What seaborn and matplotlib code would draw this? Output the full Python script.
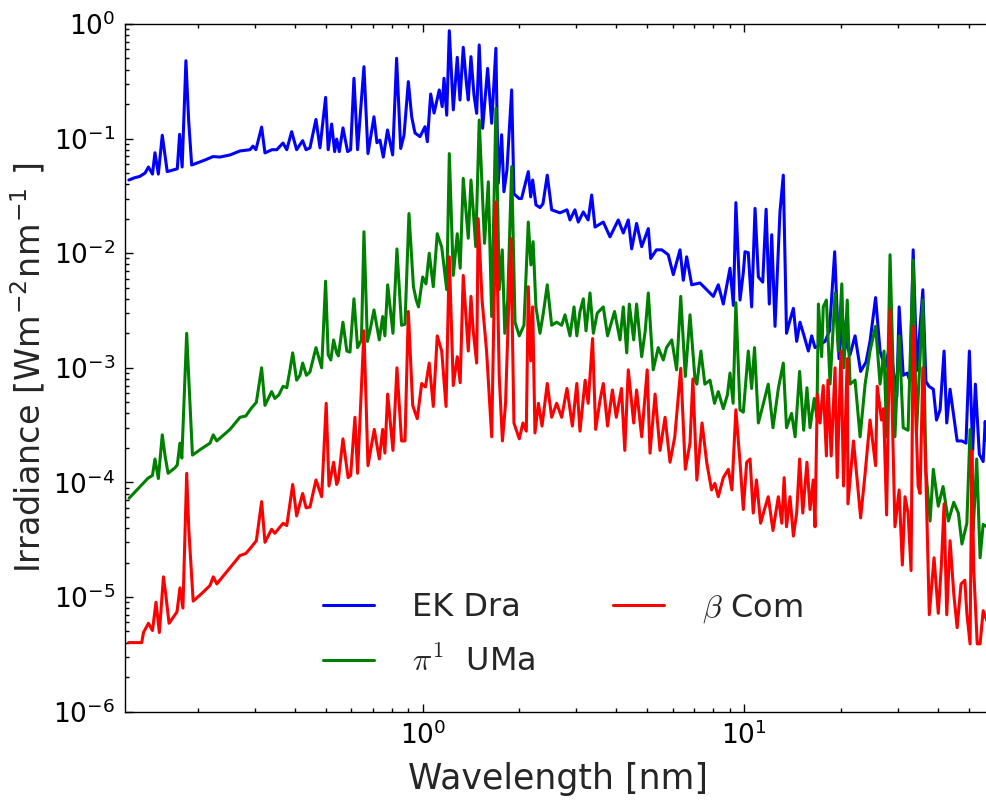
import matplotlib
matplotlib.use("Agg")
import matplotlib.pyplot as plt
import numpy as np
import pandas as pd
import seaborn as sns
from matplotlib.ticker import LogLocator, NullFormatter, LogFormatterSciNotation

# ---------------- data ----------------
wl_ek_dra = [0.122, 0.127, 0.132, 0.137, 0.1404, 0.1445, 0.1471, 0.1507, 0.155, 0.1606,
             0.1726, 0.1755, 0.1787, 0.1836, 0.1872, 0.1913, 0.2107, 0.2228, 0.234, 0.2517,
             0.2704, 0.2904, 0.2967, 0.303, 0.3157, 0.3233, 0.340, 0.352, 0.3678, 0.378,
             0.3914, 0.4056, 0.4235, 0.434, 0.4462, 0.4658, 0.4794, 0.4991, 0.5084, 0.5212,
             0.5325, 0.5402, 0.5504, 0.5652, 0.5842, 0.597, 0.6114, 0.6275, 0.6568, 0.6759,
             0.7056, 0.7208, 0.7366, 0.7543, 0.7774, 0.8067, 0.8298, 0.8543, 0.875, 0.9024,
             0.9243, 0.9464, 0.981, 1.017, 1.034, 1.059, 1.085, 1.108, 1.126, 1.150,
             1.165, 1.188, 1.210, 1.245, 1.281, 1.306, 1.337, 1.370, 1.386, 1.413,
             1.444, 1.472, 1.499, 1.536, 1.592, 1.639, 1.689, 1.717, 1.760, 1.789,
             1.828, 1.891, 1.922, 1.993, 2.03, 2.13, 2.167, 2.198, 2.25, 2.316,
             2.366, 2.44, 2.518, 2.673, 2.81, 2.871, 2.974, 3.047, 3.158, 3.27,
             3.353, 3.434, 3.644, 3.823, 4.057, 4.205, 4.358, 4.465, 4.625, 4.797,
             5.03, 5.117, 5.33, 5.536, 5.80, 6.015, 6.311, 6.462, 6.62, 6.862,
             7.282, 7.64, 8.01, 8.30, 8.605, 8.81, 9.028, 9.25, 9.415, 9.698,
             9.93, 10.05, 10.29, 10.54, 10.80, 11.06, 11.41, 11.69, 11.96, 12.17,
             12.46, 12.91, 13.22, 13.53, 13.87, 14.21, 14.55, 14.90, 15.34, 15.82,
             16.20, 16.59, 17.20, 17.83, 18.4, 19.1, 19.7, 20.2, 20.8, 21.32,
             22.1, 23.0, 23.9, 24.6, 25.6, 26.43, 27.4, 28.39, 29.8, 30.3,
             31.2, 32.1, 32.77, 33.5, 34.4, 35.9, 36.7, 37.5, 38.7, 39.6,
             40.62, 41.8, 42.6, 43.63, 45.9, 47.5, 48.9, 50.1, 51.3, 52.3,
             53.8, 55.3, 56.1, 56.8]
irr_ek_dra = [0.0435, 0.0455, 0.0468, 0.0500, 0.0565, 0.049, 0.0753, 0.049, 0.107, 0.0515,
              0.0545, 0.109, 0.0565, 0.478, 0.145, 0.0588, 0.0651, 0.0697, 0.069, 0.072,
              0.078, 0.080, 0.086, 0.080, 0.126, 0.075, 0.080, 0.080, 0.0915, 0.080,
              0.115, 0.080, 0.096, 0.080, 0.083, 0.147, 0.083, 0.229, 0.080, 0.134,
              0.077, 0.099, 0.077, 0.124, 0.077, 0.080, 0.336, 0.080, 0.424, 0.074,
              0.155, 0.092, 0.097, 0.069, 0.119, 0.072, 0.502, 0.082, 0.107, 0.314,
              0.155, 0.112, 0.104, 0.127, 0.094, 0.245, 0.167, 0.217, 0.266, 0.19,
              0.336, 0.16, 0.874, 0.178, 0.512, 0.217, 0.626, 0.29, 0.217, 0.519,
              0.24, 0.166, 0.656, 0.123, 0.41, 0.136, 0.614, 0.0406, 0.108, 0.0344,
              0.053, 0.266, 0.033, 0.030, 0.030, 0.0515, 0.031, 0.0435, 0.0264, 0.025,
              0.027, 0.048, 0.0239, 0.0225, 0.0239, 0.0195, 0.0239, 0.0187, 0.0229, 0.0195,
              0.0322, 0.0169, 0.0187, 0.0139, 0.0195, 0.015, 0.0195, 0.0109, 0.0182, 0.0114,
              0.0164, 0.0090, 0.0107, 0.0107, 0.0097, 0.0065, 0.0107, 0.0058, 0.0093, 0.0053,
              0.0055, 0.0048, 0.0042, 0.0053, 0.0036, 0.0051, 0.0074, 0.0035, 0.0276, 0.0039,
              0.0068, 0.0103, 0.0101, 0.0034, 0.0246, 0.0062, 0.0056, 0.0242, 0.0036, 0.0145,
              0.0023, 0.0229, 0.048, 0.0020, 0.0026, 0.0033, 0.0017, 0.0025, 0.0019, 0.0014,
              0.0019, 0.0015, 0.0016, 0.0017, 0.0021, 0.0103, 0.0012, 0.0027, 0.0016, 0.0013,
              0.0019, 0.00093, 0.00112, 0.0017, 0.0041, 0.0014, 0.0010, 0.0016, 0.00056, 0.0034,
              0.00086, 0.00090, 0.00076, 0.0107, 0.00095, 0.0048, 0.00076, 0.00069, 0.00065, 0.00035,
              0.00043, 0.0014, 0.00033, 0.00065, 0.00023, 0.00023, 0.00022, 0.0014, 0.00019, 0.00072,
              0.000176, 0.000152, 0.00034, 0.00023]

wl_pi1_uma = [0.1222, 0.1288, 0.1352, 0.140, 0.1445, 0.1471, 0.1507, 0.155, 0.158, 0.1616,
              0.1697, 0.1726, 0.1759, 0.1783, 0.1846, 0.1875, 0.1924, 0.2054, 0.2181, 0.2233,
              0.229, 0.2517, 0.2704, 0.282, 0.2924, 0.304, 0.3157, 0.3233, 0.3391, 0.347,
              0.357, 0.3682, 0.378, 0.3867, 0.3944, 0.4056, 0.4154, 0.4235, 0.435, 0.4462,
              0.4658, 0.4852, 0.4991, 0.5084, 0.518, 0.5286, 0.5402, 0.547, 0.5651, 0.581,
              0.5942, 0.6114, 0.6275, 0.645, 0.6568, 0.6732, 0.6857, 0.7056, 0.733, 0.751,
              0.763, 0.7783, 0.8083, 0.8317, 0.8595, 0.881, 0.9065, 0.936, 0.955, 0.9706,
              1.0, 1.024, 1.048, 1.079, 1.110, 1.146, 1.188, 1.21, 1.245, 1.281,
              1.308, 1.337, 1.386, 1.413, 1.436, 1.462, 1.499, 1.557, 1.600, 1.639,
              1.689, 1.73, 1.768, 1.80, 1.838, 1.891, 1.937, 1.997, 2.065, 2.130,
              2.17, 2.205, 2.250, 2.316, 2.372, 2.44, 2.518, 2.61, 2.705, 2.77,
              2.871, 2.955, 3.015, 3.084, 3.158, 3.22, 3.313, 3.394, 3.49, 3.644,
              3.757, 3.95, 4.107, 4.205, 4.31, 4.39, 4.53, 4.625, 4.797, 4.92,
              5.03, 5.21, 5.40, 5.60, 5.73, 5.95, 6.16, 6.345, 6.555, 6.779,
              7.03, 7.12, 7.33, 7.54, 7.823, 8.08, 8.30, 8.605, 8.86, 9.028,
              9.23, 9.415, 9.698, 9.93, 10.29, 10.54, 10.76, 11.06, 11.47, 11.87,
              12.28, 12.76, 13.22, 13.53, 14.03, 14.39, 14.86, 15.3, 15.66, 16.01,
              16.5, 16.82, 17.0, 17.4, 17.6, 18.0, 18.48, 19.15, 19.6, 20.1,
              20.4, 20.9, 21.32, 22.1, 22.91, 23.75, 24.6, 25.6, 26.43, 27.2,
              27.7, 28.39, 29.4, 30.3, 31.2, 32.3, 33.5, 34.3, 35.9, 36.7,
              37.81, 38.7, 40.1, 41.5, 43.1, 44.8, 46.3, 47.5, 49.2, 50.35,
              51.5, 52.8, 54.09, 55.3, 56.8]
irr_pi1_uma = [7.27e-5, 8.5e-5, 9.8e-5, 1.09e-4, 1.15e-4, 1.6e-4, 1.08e-4, 2.6e-4, 1.73e-4, 1.2e-4,
               1.34e-4, 1.42e-4, 2.2e-4, 1.63e-4, 2.0e-3, 7.8e-4, 1.73e-4, 1.97e-4, 2.2e-4, 2.6e-4,
               2.3e-4, 2.9e-4, 3.7e-4, 3.8e-4, 4.4e-4, 5.0e-4, 1.0e-3, 4.7e-4, 6.2e-4, 5.4e-4,
               5.8e-4, 6.9e-4, 6.7e-4, 9.6e-4, 1.35e-3, 7.8e-4, 8.6e-4, 1.1e-3, 8.6e-4, 9.2e-4,
               1.5e-3, 1.0e-3, 5.7e-3, 1.3e-3, 1.17e-3, 1.75e-3, 1.35e-3, 1.27e-3, 2.5e-3, 1.4e-3,
               1.37e-3, 4.0e-3, 1.5e-3, 1.75e-3, 0.0154, 1.7e-3, 2.1e-3, 3.2e-3, 1.75e-3, 2.8e-3,
               1.9e-3, 5.3e-3, 2.0e-3, 0.0109, 2.35e-3, 2.4e-3, 0.0222, 5.1e-3, 3.9e-3, 3.4e-3,
               6.2e-3, 5.4e-3, 0.010, 5.1e-3, 0.0148, 0.0113, 4.8e-3, 0.074, 6.4e-3, 0.0148,
               7.4e-3, 0.045, 0.0135, 0.0435, 0.0239, 0.0114, 0.145, 0.0122, 0.042, 2.8e-3,
               0.184, 4.8e-3, 0.0107, 2.0e-3, 3.9e-3, 0.057, 2.5e-3, 1.9e-3, 2.35e-3, 0.0187,
               7.9e-3, 0.0126, 3.4e-3, 2.0e-3, 3.0e-3, 5.3e-3, 2.35e-3, 2.5e-3, 2.35e-3, 2.9e-3,
               1.9e-3, 3.4e-3, 1.9e-3, 3.1e-3, 4.0e-3, 2.1e-3, 4.5e-3, 2.0e-3, 3.0e-3, 3.4e-3,
               1.9e-3, 3.1e-3, 1.75e-3, 3.4e-3, 1.35e-3, 3.6e-3, 1.75e-3, 3.6e-3, 1.25e-3, 2.1e-3,
               4.5e-3, 9.6e-4, 1.5e-3, 1.17e-3, 1.5e-3, 1.75e-3, 9.6e-4, 4.2e-3, 8.4e-4, 2.9e-3,
               7.8e-4, 7.2e-4, 1.4e-3, 7.2e-4, 7.8e-4, 4.9e-4, 6.2e-4, 4.4e-4, 5.8e-4, 9.0e-4,
               4.9e-4, 3.7e-3, 4.3e-4, 4.1e-4, 1.4e-3, 6.6e-4, 1.5e-3, 3.3e-4, 4.9e-4, 7.2e-4,
               3.0e-4, 6.6e-4, 1.1e-3, 3.0e-4, 4.0e-4, 2.5e-4, 9.3e-4, 2.85e-4, 6.7e-4, 3.0e-4,
               5.4e-4, 3.7e-4, 3.6e-3, 1.25e-3, 3.4e-3, 3.9e-3, 7.2e-4, 4.5e-3, 1.4e-3, 5.4e-3,
               1.0e-3, 3.9e-3, 7.2e-4, 7.8e-4, 2.5e-4, 7.2e-4, 1.4e-3, 2.3e-3, 7.2e-4, 1.4e-3,
               2.5e-4, 9.7e-3, 2.5e-4, 1.9e-3, 3.0e-4, 2.85e-4, 8.7e-3, 2.7e-4, 3.9e-3, 1.27e-4,
               4.6e-5, 1.3e-4, 6.2e-5, 9.2e-5, 4.6e-5, 6.7e-5, 5.4e-5, 2.9e-5, 4.4e-5, 2.9e-4,
               3.8e-5, 1.6e-4, 2.2e-5, 4.3e-5, 4.1e-5]

wl_beta_com = [0.1217, 0.1338, 0.1355, 0.1404, 0.1445, 0.1482, 0.1518, 0.1563, 0.159, 0.1627,
               0.1697, 0.1722, 0.1759, 0.1797, 0.1846, 0.1875, 0.1934, 0.2054, 0.2181, 0.2233,
               0.229, 0.2517, 0.2704, 0.282, 0.2924, 0.304, 0.3157, 0.3233, 0.3391, 0.347,
               0.3682, 0.378, 0.3944, 0.4056, 0.4235, 0.434, 0.4462, 0.4658, 0.4852, 0.5012,
               0.5113, 0.5286, 0.5402, 0.547, 0.5651, 0.5863, 0.597, 0.6157, 0.6275, 0.6568,
               0.6759, 0.707, 0.733, 0.751, 0.763, 0.7783, 0.8083, 0.8317, 0.8595, 0.881,
               0.9024, 0.931, 0.9464, 0.962, 0.993, 1.02, 1.048, 1.079, 1.110, 1.146,
               1.182, 1.21, 1.245, 1.281, 1.308, 1.337, 1.386, 1.413, 1.436, 1.472,
               1.488, 1.53, 1.58, 1.639, 1.689, 1.73, 1.77, 1.81, 1.88, 1.922,
               1.997, 2.05, 2.10, 2.130, 2.167, 2.198, 2.234, 2.29, 2.35, 2.44,
               2.518, 2.61, 2.705, 2.81, 2.92, 3.015, 3.084, 3.20, 3.27, 3.375,
               3.45, 3.559, 3.644, 3.757, 3.89, 4.0, 4.15, 4.25, 4.358, 4.53,
               4.625, 4.797, 4.99, 5.091, 5.28, 5.469, 5.67, 5.875, 6.08, 6.345,
               6.555, 6.779, 6.92, 7.12, 7.39, 7.64, 7.91, 8.1, 8.30, 8.605,
               8.92, 9.15, 9.415, 9.698, 9.93, 10.17, 10.42, 10.66, 10.91, 11.24,
               11.63, 11.87, 12.28, 12.76, 13.08, 13.3, 13.53, 13.87, 14.21, 14.55,
               14.86, 15.2, 15.66, 16.01, 16.38, 16.59, 16.87, 17.20, 17.6, 18.0,
               18.2, 18.63, 19.15, 19.45, 19.98, 20.35, 20.9, 21.0, 21.85, 22.4,
               23.0, 23.75, 24.6, 25.6, 25.9, 26.7, 27.1, 27.7, 28.39, 29.0,
               29.4, 30.3, 31.0, 31.6, 32.3, 33.0, 33.5, 34.7, 35.2, 35.9,
               36.7, 37.6, 38.9, 40.1, 41.0, 41.8, 42.6, 43.63, 44.8, 45.9,
               47.2, 48.5, 49.2, 50.35, 51.0, 51.7, 53.0, 54.09, 55.3, 56.8]
irr_beta_com = [4.0e-6, 4.0e-6, 4.9e-6, 5.9e-6, 5.1e-6, 9.0e-6, 4.9e-6, 1.5e-5, 1.04e-5, 5.9e-6,
                7.0e-6, 7.4e-6, 1.2e-5, 8.0e-6, 1.2e-4, 3.8e-5, 9.2e-6, 1.07e-5, 1.26e-5, 1.5e-5,
                1.3e-5, 1.8e-5, 2.3e-5, 2.4e-5, 2.7e-5, 3.1e-5, 6.8e-5, 3.0e-5, 3.9e-5, 3.6e-5,
                4.4e-5, 4.2e-5, 9.6e-5, 5.1e-5, 8.0e-5, 6.0e-5, 6.1e-5, 1.05e-4, 7.5e-5, 4.9e-4,
                9.3e-5, 1.5e-4, 9.6e-5, 1.05e-4, 2.4e-4, 1.1e-4, 1.15e-4, 3.7e-4, 1.2e-4, 2.1e-3,
                1.4e-4, 2.9e-4, 1.6e-4, 2.9e-4, 1.8e-4, 5.9e-4, 1.9e-4, 1.0e-3, 2.3e-4, 2.3e-4,
                3.1e-3, 4.7e-4, 4.1e-4, 3.6e-4, 7.3e-4, 6.8e-4, 1.1e-3, 4.6e-4, 1.9e-3, 1.4e-3,
                4.6e-4, 9.3e-3, 7.0e-4, 1.25e-3, 7.4e-4, 6.4e-3, 1.4e-3, 4.2e-3, 2.1e-3, 1.1e-3,
                0.020, 3.9e-3, 1.4e-3, 2.5e-4, 0.028, 8.4e-4, 2.3e-4, 4.9e-4, 0.0134, 3.3e-4,
                2.4e-4, 3.3e-4, 2.8e-4, 5.1e-3, 1.15e-3, 3.4e-3, 2.7e-4, 4.9e-4, 3.1e-4, 7.3e-4,
                3.7e-4, 4.9e-4, 3.7e-4, 6.6e-4, 3.1e-4, 7.3e-4, 2.8e-4, 7.8e-4, 4.9e-4, 1.8e-3,
                2.9e-4, 5.2e-4, 7.3e-4, 3.1e-4, 6.4e-4, 3.7e-4, 6.6e-4, 1.9e-4, 9.6e-4, 3.3e-4,
                6.4e-4, 2.5e-4, 9.6e-4, 1.8e-4, 5.9e-4, 1.9e-4, 3.7e-4, 1.5e-4, 2.5e-4, 9.9e-4,
                1.3e-4, 2.2e-4, 8.0e-4, 1.05e-4, 3.3e-4, 1.5e-4, 8.6e-5, 9.8e-5, 7.5e-5, 1.1e-4,
                1.3e-4, 8.6e-5, 4.3e-4, 1.5e-4, 5.8e-5, 1.5e-4, 1.6e-4, 5.4e-5, 1.05e-4, 4.4e-5,
                6.2e-5, 7.5e-5, 3.8e-5, 7.5e-5, 4.4e-5, 1.1e-4, 4.1e-5, 7.5e-5, 3.4e-5, 5.4e-5,
                1.6e-4, 5.4e-5, 1.5e-4, 5.8e-5, 1.05e-4, 4.1e-5, 5.9e-4, 3.3e-4, 7.0e-4, 1.7e-4,
                7.8e-4, 1.7e-4, 1.0e-3, 1.1e-4, 1.4e-3, 9.3e-5, 1.2e-3, 6.5e-5, 2.3e-4, 1.1e-4,
                4.9e-5, 1.2e-4, 3.5e-4, 1.4e-4, 6.9e-4, 3.5e-4, 4.4e-4, 5.2e-5, 3.2e-3, 2.1e-4,
                4.1e-5, 8.6e-5, 1.9e-5, 7.5e-5, 5.4e-5, 1.7e-5, 2.3e-3, 9.3e-5, 8.0e-5, 1.0e-3,
                1.1e-4, 7.0e-6, 2.2e-5, 7.2e-6, 1.9e-5, 6.5e-5, 7.0e-6, 3.1e-5, 1.07e-5, 5.4e-6,
                1.3e-5, 1.4e-5, 7.2e-6, 3.9e-6, 1.9e-4, 1.7e-5, 3.9e-6, 3.9e-6, 7.6e-6, 6.2e-6]

series_labels = ["EK Dra", r"$\pi^1$  UMa", r"$\beta$ Com"]
series_colors = ["#0000ff", "#008000", "#ff0000"]

x_limits = (0.1187, 58.07)
y_limits = (1e-6, 1e0)

# ---------------- style ----------------
sns.set_style("ticks")
plt.rcParams.update({
    "font.family": ["DejaVu Sans"],
    "mathtext.fontset": "cm",
    "axes.edgecolor": "black",
    "axes.linewidth": 1.0,
    "xtick.color": "black",
    "ytick.color": "black",
})

fig = plt.figure(figsize=(9.86, 8.01), dpi=100)
ax = fig.add_axes([125 / 986, (801 - 711.6) / 801, (990 - 125) / 986, (711.6 - 24) / 801])

for wl, irr, lab, col in zip([wl_ek_dra, wl_pi1_uma, wl_beta_com],
                             [irr_ek_dra, irr_pi1_uma, irr_beta_com],
                             series_labels, series_colors):
    df = pd.DataFrame({"wavelength": wl, "irradiance": irr})
    sns.lineplot(data=df, x="wavelength", y="irradiance", ax=ax, color=col,
                 linewidth=2.2, label=lab, estimator=None, sort=False)

ax.set_xscale("log")
ax.set_yscale("log")
ax.set_xlim(*x_limits)
ax.set_ylim(*y_limits)

ax.xaxis.set_major_locator(LogLocator(base=10, numticks=20))
ax.yaxis.set_major_locator(LogLocator(base=10, numticks=20))
ax.xaxis.set_minor_locator(LogLocator(base=10, subs=np.arange(2, 10), numticks=50))
ax.yaxis.set_minor_locator(LogLocator(base=10, subs=np.arange(2, 10), numticks=50))
ax.xaxis.set_major_formatter(LogFormatterSciNotation())
ax.yaxis.set_major_formatter(LogFormatterSciNotation())
ax.xaxis.set_minor_formatter(NullFormatter())
ax.yaxis.set_minor_formatter(NullFormatter())

ax.tick_params(which="both", direction="in", top=True, right=False, labelsize=19, width=1)
ax.tick_params(which="major", length=6, pad=7)
ax.tick_params(which="minor", length=3)

for s in ax.spines.values():
    s.set_visible(True)
    s.set_color("black")

ax.set_xlabel("Wavelength [nm]", fontsize=25, labelpad=9)
ax.set_ylabel(r"Irradiance [Wm$^{\mathdefault{-2}}$nm$^{\mathdefault{-1}}$ ]", fontsize=24, labelpad=4)

handles, labels = ax.get_legend_handles_labels()
ax.legend(handles, labels, ncol=2, frameon=False, fontsize=23,
          handlelength=1.6, handletextpad=1.2, columnspacing=2.4, labelspacing=0.72,
          loc="upper left", bbox_to_anchor=(323 / 986, 1 - 592 / 801),
          bbox_transform=fig.transFigure, borderpad=0, borderaxespad=0)

fig.savefig("out.png", dpi=100)
